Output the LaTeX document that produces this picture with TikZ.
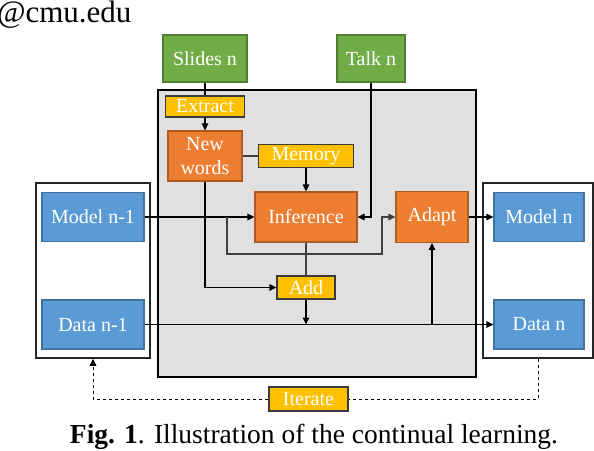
\documentclass[tikz,border=0pt]{standalone}
\usepackage{fontspec}
\setmainfont{Liberation Serif}
\usetikzlibrary{arrows.meta}
\definecolor{slidegreen}{HTML}{70AD47}
\definecolor{slideedge}{HTML}{507E32}
\definecolor{steporange}{HTML}{ED7D31}
\definecolor{stepedge}{HTML}{AE5A21}
\definecolor{opyellow}{HTML}{FFC000}
\definecolor{opedge}{HTML}{3A3A3A}
\definecolor{modelblue}{HTML}{5B9BD5}
\definecolor{modeledge}{HTML}{41719C}
\definecolor{panelgray}{HTML}{E0E0E0}

\begin{document}
\begin{tikzpicture}[x=1pt,y=-1pt,
		box/.style = {draw, rectangle, line width=1.1pt, text=white, inner sep=0pt, align=center, font=\fontsize{20}{24}\selectfont},
		greenbox/.style = {box, fill=slidegreen, draw=slideedge},
		orangebox/.style = {box, fill=steporange, draw=stepedge},
		yellowbox/.style = {box, fill=opyellow, draw=opedge},
		bluebox/.style = {box, fill=modelblue, draw=modeledge},
		outerbox/.style = {draw=black!85, line width=1.5pt, fill=white, minimum width=#1, minimum height=175pt},
		arr/.style = {-{Triangle[length=7pt,width=6.5pt]}, line width=1.1pt}]
				\useasboundingbox (0,0) rectangle (594,450);
				\node[anchor=base east, font=\fontsize{31}{34}\selectfont] (mail) at (135,22) {@cmu.edu};
				\draw[fill=panelgray, line width=1.1pt] (158,90) rectangle (476,377);
				\node[outerbox=114pt] (outerL) at (93,270.5) {};
				\node[outerbox=110pt] (outerR) at (538,270.5) {};
				\node[greenbox, minimum width=84pt, minimum height=47pt] (slides) at (205,58.5) {Slides n};
				\node[greenbox, minimum width=68pt, minimum height=47pt] (talk) at (371,58.5) {Talk n};
				\node[yellowbox, minimum width=79pt, minimum height=21pt] (extract) at (205,106.5) {Extract};
				\node[orangebox, minimum width=74pt, minimum height=50pt] (newwords) at (205,156) {New\\words};
				\node[yellowbox, minimum width=95pt, minimum height=23pt] (memory) at (306,156) {Memory};
				\node[orangebox, minimum width=102pt, minimum height=50pt] (inference) at (306,217) {Inference};
				\node[orangebox, minimum width=72pt, minimum height=51pt] (adapt) at (432,217) {Adapt};
				\node[yellowbox, minimum width=58pt, minimum height=23pt] (add) at (306,287.5) {Add};
				\node[bluebox, minimum width=102pt, minimum height=49pt] (modelA) at (93,217) {Model n-1};
				\node[bluebox, minimum width=102pt, minimum height=49pt] (dataA) at (93,324.5) {Data n-1};
				\node[bluebox, minimum width=90pt, minimum height=49pt] (modelB) at (539,217) {Model n};
				\node[bluebox, minimum width=90pt, minimum height=49pt] (dataB) at (539,324.5) {Data n};
				\node[yellowbox, minimum width=79pt, minimum height=24pt] (iterate) at (308.5,399) {Iterate};
				\node[anchor=base, font=\fontsize{27.5}{30}\selectfont] (caption) at (314,443) {\textbf{Fig. 1}. Illustration of the continual learning.};
				\coordinate (split) at (227,217);
				\coordinate (bend) at (382,254);
				\draw [line width=1.1pt] (slides) -- (extract);
				\draw [arr] (extract) -- (newwords);
				\draw [line width=1.1pt, black!75] (newwords) -- (memory);
				\draw [arr] (memory) -- (inference);
				\draw [arr] (talk.south) |- (inference.east);
				\draw [arr] (modelA) -- (inference);
				\draw [arr, black!75] (split) |- (bend) |- (adapt.west);
				\draw [line width=1.1pt, black!75] (inference) -- (add);
				\draw [arr] (newwords.south) |- (add.west);
				\draw [arr] (add.south) -- (add.south |- dataA.east);
				\draw [arr] (dataA) -- (dataB);
				\draw [arr] (adapt.south |- dataA.east) -- (adapt.south);
				\draw [arr] (adapt) -- (modelB);
				\draw [dashed, line width=1pt] (outerR.south) |- (iterate.east);
				\draw [dashed, arr, line width=1pt] (iterate.west) -| (outerL.south);
			\end{tikzpicture}
\end{document}
